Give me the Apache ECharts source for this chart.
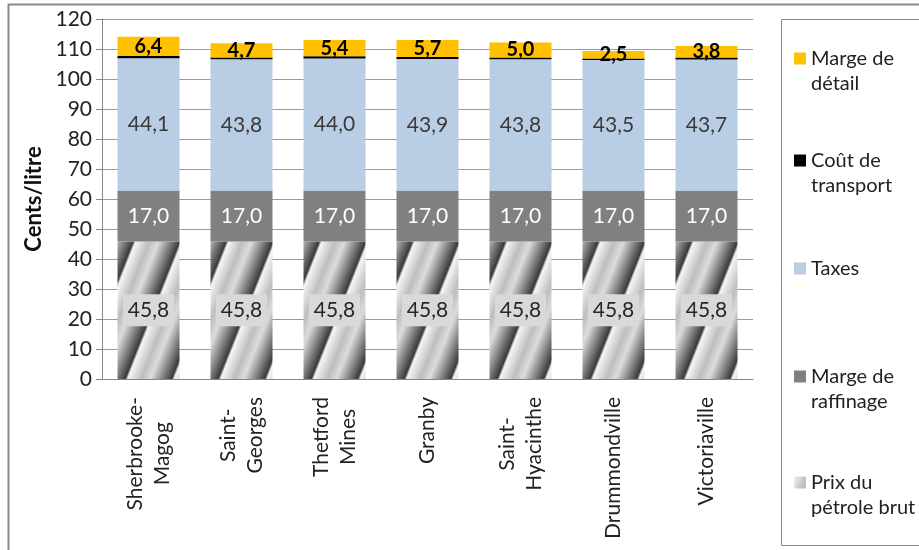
<!DOCTYPE html>
<html>
<head>
<meta charset="utf-8">
<script src="https://cdn.jsdelivr.net/npm/echarts@6/dist/echarts.min.js"></script>
<style>
  html, body { margin: 0; padding: 0; background: #fff; }
  #chart { width: 919px; height: 550px; }
</style>
</head>
<body>
<div id="chart"></div>
<script>
// data (cents per litre)
var categories = ['Sherbrooke-\nMagog', 'Saint-\nGeorges', 'Thetford\nMines', 'Granby', 'Saint-\nHyacinthe', 'Drummondville', 'Victoriaville'];
var crudeOil = [45.8, 45.8, 45.8, 45.8, 45.8, 45.8, 45.8];
var refining = [17.0, 17.0, 17.0, 17.0, 17.0, 17.0, 17.0];
var taxes = [44.1, 43.8, 44.0, 43.9, 43.8, 43.5, 43.7];
var transport = [0.8, 0.6, 0.8, 0.6, 0.6, 0.5, 0.7];
var retail = [6.4, 4.7, 5.4, 5.7, 5.0, 2.5, 3.8];

var FONT = 'Lato';

// decimal comma like the original
function fr(p) {
  return p.value.toFixed(1).replace('.', ',');
}

// metallic diagonal stripes for the crude oil segment
function oilPattern() {
  var w = 93, h = 234;
  var c = document.createElement('canvas');
  c.width = w; c.height = h;
  var ctx = c.getContext('2d');
  var img = ctx.createImageData(w, h);
  for (var y = 0; y < h; y++) {
    for (var x = 0; x < w; x++) {
      var u = (2 * (x / w + y / h) + 0.09) % 1;
      var v;
      if (u < 0.06) v = 45 + (u / 0.06) * 200;
      else if (u < 0.35) v = 245 - (u - 0.06) / 0.29 * 55;
      else if (u < 0.55) v = 190 + (u - 0.35) / 0.2 * 30;
      else v = 220 - (u - 0.55) / 0.45 * 160;
      var i = (y * w + x) * 4;
      img.data[i] = v; img.data[i + 1] = v; img.data[i + 2] = v; img.data[i + 3] = 255;
    }
  }
  ctx.putImageData(img, 0, 0);
  return c;
}

var legendText = {
  'Marge de détail': '\nMarge de\ndétail',
  'Coût de transport': '\nCoût de\ntransport',
  'Taxes': 'Taxes',
  'Marge de raffinage': '\nMarge de\nraffinage',
  'Prix du pétrole brut': '\nPrix du\npétrole brut'
};

function legendAt(name, top) {
  return {
    data: [name],
    left: 794,
    top: top,
    padding: 0,
    icon: 'rect',
    itemWidth: 12,
    itemHeight: 12,
    itemGap: 0,
    selectedMode: false,
    formatter: function (n) { return legendText[n]; },
    textStyle: { fontFamily: FONT, fontSize: 20, lineHeight: 25, color: '#222' }
  };
}

var chart = echarts.init(document.getElementById('chart'));
var option = {
  animation: false,
  textStyle: { fontFamily: FONT },
  grid: { left: 102, right: 166, top: 19, bottom: 171 },
  graphic: [
    { type: 'rect', shape: { x: 8.5, y: 4.5, width: 1000, height: 1000 },
      style: { fill: 'none', stroke: '#8a8a8a', lineWidth: 2 }, silent: true },
    { type: 'rect', shape: { x: 781.5, y: 19.5, width: 200, height: 526 },
      style: { fill: 'none', stroke: '#8a8a8a', lineWidth: 1 }, silent: true }
  ],
  legend: [
    legendAt('Marge de détail', 21),
    legendAt('Coût de transport', 123),
    legendAt('Taxes', 256),
    legendAt('Marge de raffinage', 339),
    legendAt('Prix du pétrole brut', 445)
  ],
  xAxis: {
    type: 'category',
    data: categories,
    axisLine: { lineStyle: { color: '#868686', width: 1 } },
    axisTick: { length: 6, lineStyle: { color: '#868686' } },
    axisLabel: {
      rotate: 90, margin: 18, color: '#222',
      formatter: function (v) {
        return v.split('\n').map(function (s) { return '{c|' + s + '}'; }).join('\n');
      },
      rich: { c: { align: 'center', fontSize: 21, lineHeight: 27, fontFamily: FONT, color: '#222' } }
    }
  },
  yAxis: {
    type: 'value',
    min: 0,
    max: 120,
    interval: 10,
    name: 'Cents/litre',
    nameLocation: 'middle',
    nameGap: 56,
    nameTextStyle: { fontSize: 22, fontWeight: 'bold', color: '#111', fontFamily: FONT },
    axisLine: { show: true, lineStyle: { color: '#868686' } },
    axisTick: { show: true, length: 6, lineStyle: { color: '#868686' } },
    axisLabel: { margin: 10, fontSize: 21, color: '#222', fontFamily: FONT },
    splitLine: { lineStyle: { color: '#9a9a9a', width: 1 } }
  },
  series: [
    {
      name: 'Prix du pétrole brut', type: 'bar', stack: 'p', barWidth: 62,
      data: crudeOil,
      itemStyle: { color: { image: oilPattern(), repeat: 'repeat' } },
      label: { show: true, position: 'inside', formatter: fr, fontSize: 21, color: '#262626',
        backgroundColor: '#d9d9d9', padding: [6, 5, 5, 5], fontFamily: FONT }
    },
    {
      name: 'Marge de raffinage', type: 'bar', stack: 'p',
      data: refining,
      itemStyle: { color: '#808080' },
      label: { show: true, position: 'inside', formatter: fr, fontSize: 21, color: '#fff', fontFamily: FONT }
    },
    {
      name: 'Taxes', type: 'bar', stack: 'p',
      data: taxes,
      itemStyle: { color: '#b9cde5' },
      label: { show: true, position: 'inside', formatter: fr, fontSize: 21, color: '#3a3a3a', fontFamily: FONT }
    },
    {
      name: 'Coût de transport', type: 'bar', stack: 'p',
      data: transport,
      itemStyle: { color: '#000' }
    },
    {
      name: 'Marge de détail', type: 'bar', stack: 'p',
      data: retail,
      itemStyle: { color: '#ffc000' },
      label: { show: true, position: 'inside', formatter: fr, fontSize: 20, fontWeight: 'bold', color: '#000', fontFamily: FONT }
    }
  ]
};
chart.setOption(option);
</script>
</body>
</html>
